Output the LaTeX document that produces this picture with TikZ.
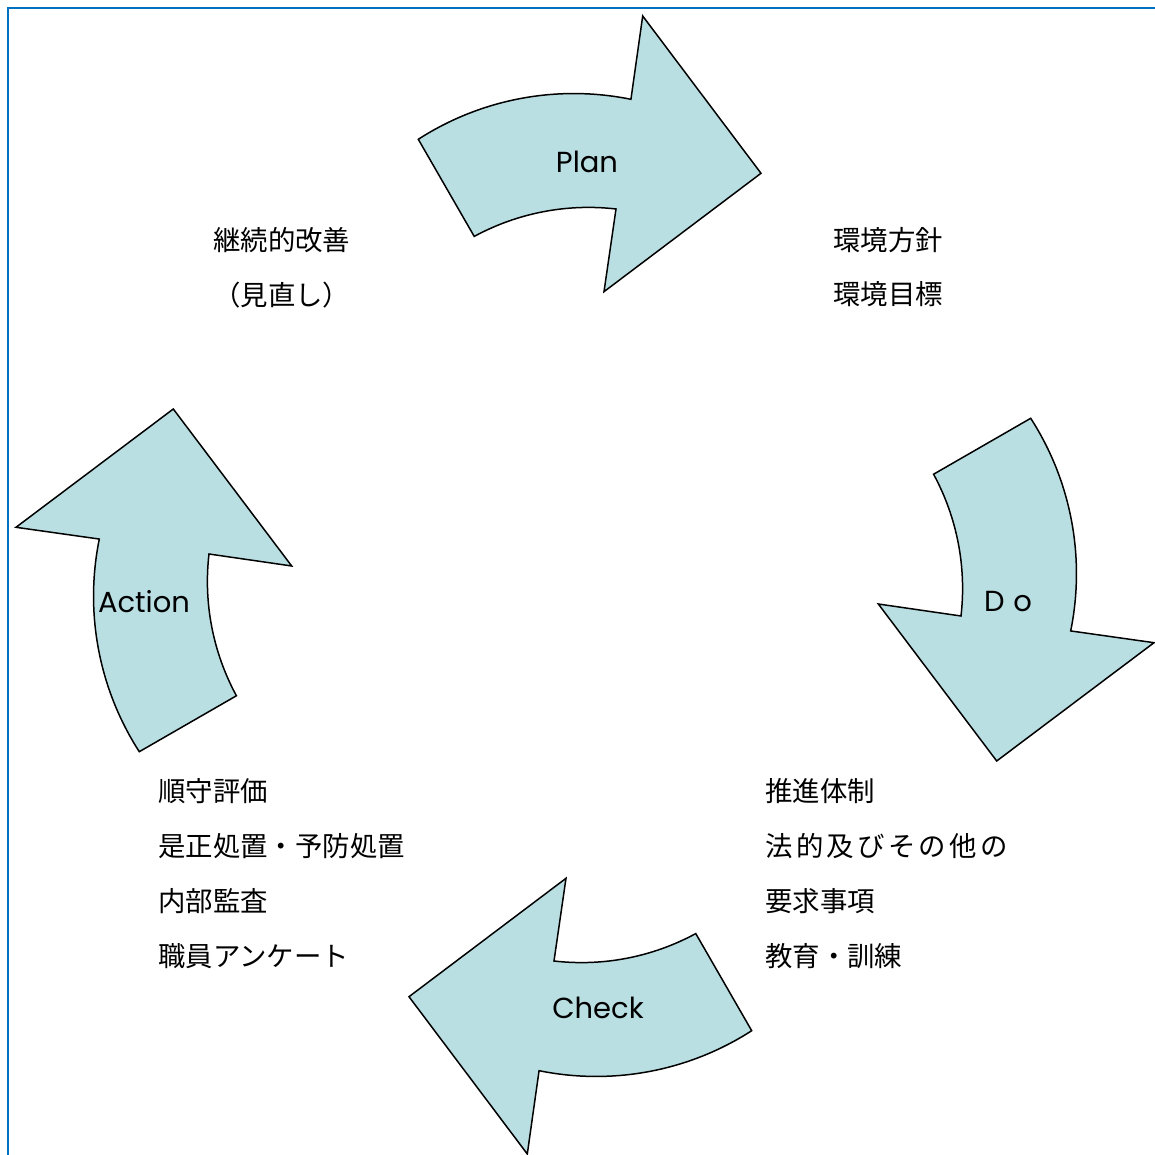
\documentclass[tikz,border=0pt]{standalone}
\usepackage{fontspec}
\newfontfamily\jp{Noto Sans CJK JP}
\newfontfamily\lat{Poppins}
\definecolor{arrowfill}{HTML}{B9DFE3}
\definecolor{framecol}{HTML}{0070C0}
\begin{document}
\begin{tikzpicture}[x=0.02cm,y=0.02cm,
  cyclearrow/.style={fill=arrowfill,draw=black,line width=0.85pt,line join=miter},
  jptext/.style={anchor=west,inner sep=0pt,font=\jp\fontsize{15.6}{18}\selectfont},
  phase/.style={inner sep=0pt,font=\lat\fontsize{16.5}{19}\selectfont}]
\useasboundingbox (-585,-570) rectangle (570,585);
% frame
\draw[framecol,line width=0.05cm] (-577,-570) -- (-577,577) -- (570,577);
% four curved arrows (one shape rotated about the centre)
\foreach \r in {0,-90,-180,-270}{
  \begin{scope}[rotate=\r]
    \draw[cyclearrow] (-166.7,445.7) arc[start angle=122.8,end angle=78.5,radius=5.74cm]
      -- (57.7,569) -- (176,411.7) -- (19,293.3) -- (31,376)
      arc[start angle=83.4,end angle=118.5,radius=4.79cm] -- cycle;
  \end{scope}
}
% phase labels
\node[phase] (plan) at (2,423) {Plan};
\node[phase] (do) at (423,-17) {D\hskip 5pt o};
\node[phase] (check) at (13,-423) {Check};
\node[phase] (action) at (-441,-17) {Action};
% texts
\node[jptext] (kaizen) at (-372,345) {継続的改善};
\node[jptext] (minaoshi) at (-372,290) {（見直し）};
\node[jptext] (hoshin) at (248,345) {環境方針};
\node[jptext] (mokuhyo) at (248,291) {環境目標};
\node[jptext] (suishin) at (180,-206) {推進体制};
\node[jptext] (hoteki) at (180,-261) {\addfontfeature{LetterSpace=12}法的及びその他の};
\node[jptext] (yokyu) at (180,-316) {要求事項};
\node[jptext] (kyoiku) at (180,-371) {教育・訓練};
\node[jptext] (junshu) at (-427,-206) {順守評価};
\node[jptext] (zesei) at (-427,-261) {是正処置・予防処置};
\node[jptext] (kansa) at (-427,-316) {内部監査};
\node[jptext] (anketo) at (-427,-371) {職員アンケート};
\end{tikzpicture}
\end{document}
